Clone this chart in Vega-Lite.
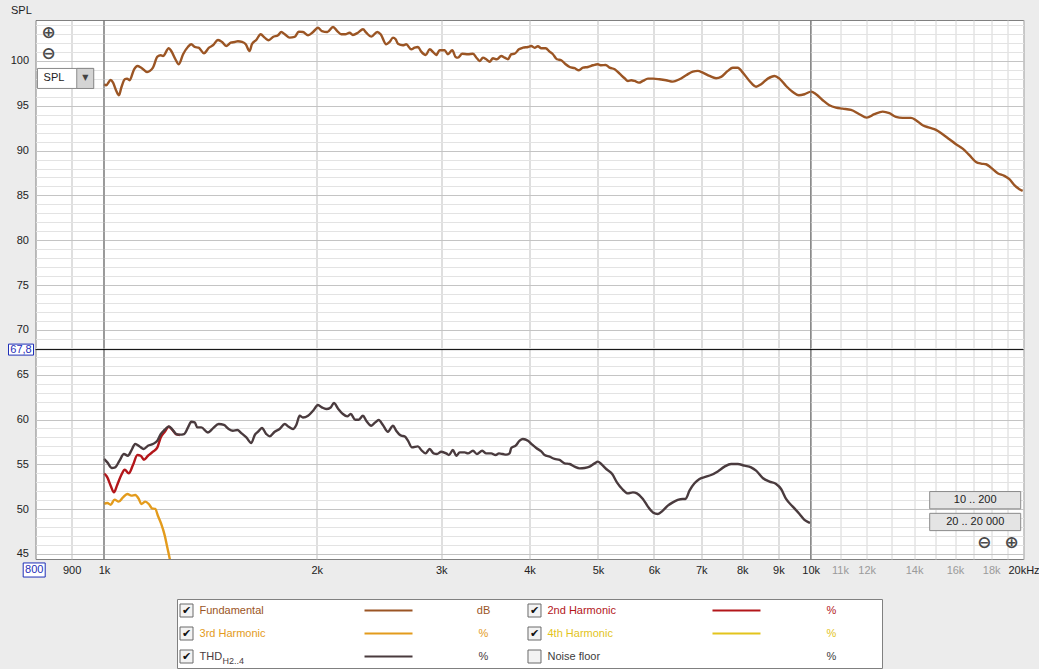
{
  "$schema": "https://vega.github.io/schema/vega-lite/v6.json",
  "background": "#ececec",
  "padding": {"left": 5.5, "top": 3, "right": 0, "bottom": 0},
  "spacing": 40,
  "bounds": "flush",
  "center": true,
  "config": {
    "font": "Liberation Sans",
    "view": {"stroke": "#808080", "fill": "#ffffff"},
    "locale": {"number": {"decimal": ",", "thousands": "\u00a0", "grouping": [3], "currency": ["", ""]}}
  },
  "datasets": {
    "cursor": [{"freq": 800, "level": 67.8}],
    "decades": [{"freq": 1000}, {"freq": 10000}],
    "controls": [
      {"kind": "zoom", "label": "⊕", "freq": 835, "level": 103.15},
      {"kind": "zoom", "label": "⊖", "freq": 835, "level": 100.75},
      {"kind": "zoom", "label": "⊖", "freq": 17608, "level": 46.23},
      {"kind": "zoom", "label": "⊕", "freq": 19244, "level": 46.23},
      {"kind": "button", "label": "10 .. 200", "freq": 17088, "level": 51.0},
      {"kind": "button", "label": "20 .. 20 000", "freq": 17088, "level": 48.57},
      {"kind": "dropdown", "label": "SPL", "freq": 882, "level": 98.05}
    ],
    "legend": [
      {"series": "Fundamental", "label": "Fundamental", "sub": "", "unit": "dB", "col": 0, "row": 0, "shown": true},
      {"series": "2nd Harmonic", "label": "2nd Harmonic", "sub": "", "unit": "%", "col": 1, "row": 0, "shown": true},
      {"series": "3rd Harmonic", "label": "3rd Harmonic", "sub": "", "unit": "%", "col": 0, "row": 1, "shown": true},
      {"series": "4th Harmonic", "label": "4th Harmonic", "sub": "", "unit": "%", "col": 1, "row": 1, "shown": true},
      {"series": "THD", "label": "THD", "sub": "H2..4", "unit": "%", "col": 0, "row": 2, "shown": true},
      {"series": "Noise floor", "label": "Noise floor", "sub": "", "unit": "%", "col": 1, "row": 2, "shown": false}
    ],
    "curves": [
      {"series":"Fundamental","freq":1000,"level":97.40},{"series":"Fundamental","freq":1007,"level":97.29},{"series":"Fundamental","freq":1022,"level":97.88},{"series":"Fundamental","freq":1030,"level":97.58},{"series":"Fundamental","freq":1041,"level":96.66},{"series":"Fundamental","freq":1050,"level":96.18},{"series":"Fundamental","freq":1058,"level":97.02},{"series":"Fundamental","freq":1070,"level":97.96},{"series":"Fundamental","freq":1078,"level":98.03},{"series":"Fundamental","freq":1087,"level":97.85},{"series":"Fundamental","freq":1103,"level":99.07},{"series":"Fundamental","freq":1115,"level":99.44},{"series":"Fundamental","freq":1129,"level":99.25},{"series":"Fundamental","freq":1151,"level":98.77},{"series":"Fundamental","freq":1173,"level":99.25},{"series":"Fundamental","freq":1190,"level":100.48},{"series":"Fundamental","freq":1203,"level":100.64},{"series":"Fundamental","freq":1212,"level":100.56},{"series":"Fundamental","freq":1235,"level":101.42},{"series":"Fundamental","freq":1245,"level":101.11},{"series":"Fundamental","freq":1262,"level":100.19},{"series":"Fundamental","freq":1276,"level":99.63},{"series":"Fundamental","freq":1294,"level":100.75},{"series":"Fundamental","freq":1315,"level":101.59},{"series":"Fundamental","freq":1329,"level":101.86},{"series":"Fundamental","freq":1344,"level":101.56},{"series":"Fundamental","freq":1361,"level":101.48},{"series":"Fundamental","freq":1385,"level":100.86},{"series":"Fundamental","freq":1408,"level":101.48},{"series":"Fundamental","freq":1426,"level":101.75},{"series":"Fundamental","freq":1450,"level":102.34},{"series":"Fundamental","freq":1469,"level":102.12},{"series":"Fundamental","freq":1489,"level":101.67},{"series":"Fundamental","freq":1511,"level":102.04},{"series":"Fundamental","freq":1531,"level":102.12},{"series":"Fundamental","freq":1547,"level":102.20},{"series":"Fundamental","freq":1568,"level":102.12},{"series":"Fundamental","freq":1587,"level":101.86},{"series":"Fundamental","freq":1607,"level":101.11},{"series":"Fundamental","freq":1619,"level":101.86},{"series":"Fundamental","freq":1642,"level":102.34},{"series":"Fundamental","freq":1666,"level":102.98},{"series":"Fundamental","freq":1688,"level":102.60},{"series":"Fundamental","freq":1710,"level":102.31},{"series":"Fundamental","freq":1734,"level":102.68},{"series":"Fundamental","freq":1763,"level":102.87},{"series":"Fundamental","freq":1782,"level":103.23},{"series":"Fundamental","freq":1802,"level":102.98},{"series":"Fundamental","freq":1831,"level":102.60},{"series":"Fundamental","freq":1861,"level":102.68},{"series":"Fundamental","freq":1886,"level":103.27},{"series":"Fundamental","freq":1912,"level":103.23},{"series":"Fundamental","freq":1944,"level":102.87},{"series":"Fundamental","freq":1976,"level":103.23},{"series":"Fundamental","freq":2008,"level":103.71},{"series":"Fundamental","freq":2034,"level":103.34},{"series":"Fundamental","freq":2070,"level":103.23},{"series":"Fundamental","freq":2109,"level":103.79},{"series":"Fundamental","freq":2138,"level":103.34},{"series":"Fundamental","freq":2166,"level":102.98},{"series":"Fundamental","freq":2195,"level":102.98},{"series":"Fundamental","freq":2226,"level":103.15},{"series":"Fundamental","freq":2250,"level":102.90},{"series":"Fundamental","freq":2287,"level":103.15},{"series":"Fundamental","freq":2325,"level":103.53},{"series":"Fundamental","freq":2350,"level":103.15},{"series":"Fundamental","freq":2389,"level":102.71},{"series":"Fundamental","freq":2436,"level":103.23},{"series":"Fundamental","freq":2463,"level":102.98},{"series":"Fundamental","freq":2508,"level":101.86},{"series":"Fundamental","freq":2536,"level":102.12},{"series":"Fundamental","freq":2564,"level":102.60},{"series":"Fundamental","freq":2586,"level":102.42},{"series":"Fundamental","freq":2606,"level":101.93},{"series":"Fundamental","freq":2648,"level":101.75},{"series":"Fundamental","freq":2677,"level":101.86},{"series":"Fundamental","freq":2721,"level":101.30},{"series":"Fundamental","freq":2751,"level":101.48},{"series":"Fundamental","freq":2781,"level":101.56},{"series":"Fundamental","freq":2811,"level":101.04},{"series":"Fundamental","freq":2852,"level":100.67},{"series":"Fundamental","freq":2889,"level":101.30},{"series":"Fundamental","freq":2927,"level":100.93},{"series":"Fundamental","freq":2952,"level":100.67},{"series":"Fundamental","freq":2985,"level":101.19},{"series":"Fundamental","freq":3034,"level":101.19},{"series":"Fundamental","freq":3066,"level":100.75},{"series":"Fundamental","freq":3110,"level":101.19},{"series":"Fundamental","freq":3144,"level":100.45},{"series":"Fundamental","freq":3168,"level":100.37},{"series":"Fundamental","freq":3213,"level":100.81},{"series":"Fundamental","freq":3273,"level":100.75},{"series":"Fundamental","freq":3327,"level":100.81},{"series":"Fundamental","freq":3370,"level":100.30},{"series":"Fundamental","freq":3400,"level":100.00},{"series":"Fundamental","freq":3437,"level":100.37},{"series":"Fundamental","freq":3474,"level":100.19},{"series":"Fundamental","freq":3513,"level":99.92},{"series":"Fundamental","freq":3551,"level":100.30},{"series":"Fundamental","freq":3597,"level":100.19},{"series":"Fundamental","freq":3648,"level":100.56},{"series":"Fundamental","freq":3689,"level":100.37},{"series":"Fundamental","freq":3729,"level":100.19},{"series":"Fundamental","freq":3769,"level":100.75},{"series":"Fundamental","freq":3811,"level":100.81},{"series":"Fundamental","freq":3865,"level":101.30},{"series":"Fundamental","freq":3915,"level":101.48},{"series":"Fundamental","freq":3980,"level":101.56},{"series":"Fundamental","freq":4023,"level":101.67},{"series":"Fundamental","freq":4067,"level":101.48},{"series":"Fundamental","freq":4111,"level":101.64},{"series":"Fundamental","freq":4156,"level":101.42},{"series":"Fundamental","freq":4216,"level":101.42},{"series":"Fundamental","freq":4271,"level":101.04},{"series":"Fundamental","freq":4317,"level":100.75},{"series":"Fundamental","freq":4374,"level":100.19},{"series":"Fundamental","freq":4436,"level":100.08},{"series":"Fundamental","freq":4500,"level":99.63},{"series":"Fundamental","freq":4559,"level":99.33},{"series":"Fundamental","freq":4634,"level":99.19},{"series":"Fundamental","freq":4699,"level":98.96},{"series":"Fundamental","freq":4761,"level":99.25},{"series":"Fundamental","freq":4839,"level":99.33},{"series":"Fundamental","freq":4918,"level":99.52},{"series":"Fundamental","freq":4997,"level":99.63},{"series":"Fundamental","freq":5053,"level":99.52},{"series":"Fundamental","freq":5126,"level":99.55},{"series":"Fundamental","freq":5193,"level":99.25},{"series":"Fundamental","freq":5279,"level":99.07},{"series":"Fundamental","freq":5365,"level":98.58},{"series":"Fundamental","freq":5453,"level":98.07},{"series":"Fundamental","freq":5512,"level":97.77},{"series":"Fundamental","freq":5572,"level":97.85},{"series":"Fundamental","freq":5634,"level":97.77},{"series":"Fundamental","freq":5713,"level":97.58},{"series":"Fundamental","freq":5788,"level":97.77},{"series":"Fundamental","freq":5883,"level":98.03},{"series":"Fundamental","freq":5980,"level":98.03},{"series":"Fundamental","freq":6109,"level":97.96},{"series":"Fundamental","freq":6242,"level":97.85},{"series":"Fundamental","freq":6380,"level":97.69},{"series":"Fundamental","freq":6520,"level":97.96},{"series":"Fundamental","freq":6662,"level":98.41},{"series":"Fundamental","freq":6809,"level":98.81},{"series":"Fundamental","freq":6921,"level":98.89},{"series":"Fundamental","freq":7035,"level":98.70},{"series":"Fundamental","freq":7190,"level":98.33},{"series":"Fundamental","freq":7346,"level":98.07},{"series":"Fundamental","freq":7467,"level":98.22},{"series":"Fundamental","freq":7631,"level":98.89},{"series":"Fundamental","freq":7757,"level":99.25},{"series":"Fundamental","freq":7884,"level":99.25},{"series":"Fundamental","freq":8014,"level":98.70},{"series":"Fundamental","freq":8191,"level":97.77},{"series":"Fundamental","freq":8369,"level":97.13},{"series":"Fundamental","freq":8506,"level":97.40},{"series":"Fundamental","freq":8694,"level":98.03},{"series":"Fundamental","freq":8886,"level":98.33},{"series":"Fundamental","freq":9032,"level":98.03},{"series":"Fundamental","freq":9228,"level":97.21},{"series":"Fundamental","freq":9431,"level":96.54},{"series":"Fundamental","freq":9618,"level":96.18},{"series":"Fundamental","freq":9797,"level":96.29},{"series":"Fundamental","freq":10010,"level":96.58},{"series":"Fundamental","freq":10174,"level":96.29},{"series":"Fundamental","freq":10398,"level":95.62},{"series":"Fundamental","freq":10627,"level":95.06},{"series":"Fundamental","freq":10858,"level":94.79},{"series":"Fundamental","freq":11098,"level":94.68},{"series":"Fundamental","freq":11402,"level":94.54},{"series":"Fundamental","freq":11718,"level":94.06},{"series":"Fundamental","freq":12000,"level":93.68},{"series":"Fundamental","freq":12305,"level":94.06},{"series":"Fundamental","freq":12642,"level":94.35},{"series":"Fundamental","freq":12920,"level":94.17},{"series":"Fundamental","freq":13200,"level":93.76},{"series":"Fundamental","freq":13491,"level":93.65},{"series":"Fundamental","freq":13861,"level":93.65},{"series":"Fundamental","freq":14089,"level":93.39},{"series":"Fundamental","freq":14400,"level":92.83},{"series":"Fundamental","freq":14718,"level":92.56},{"series":"Fundamental","freq":15038,"level":92.31},{"series":"Fundamental","freq":15370,"level":91.83},{"series":"Fundamental","freq":15709,"level":91.27},{"series":"Fundamental","freq":16051,"level":90.71},{"series":"Fundamental","freq":16405,"level":90.22},{"series":"Fundamental","freq":16767,"level":89.49},{"series":"Fundamental","freq":17131,"level":88.74},{"series":"Fundamental","freq":17413,"level":88.55},{"series":"Fundamental","freq":17699,"level":88.48},{"series":"Fundamental","freq":17990,"level":88.10},{"series":"Fundamental","freq":18387,"level":87.48},{"series":"Fundamental","freq":18792,"level":87.18},{"series":"Fundamental","freq":19100,"level":86.81},{"series":"Fundamental","freq":19414,"level":86.14},{"series":"Fundamental","freq":19733,"level":85.70},{"series":"Fundamental","freq":19946,"level":85.51},
      {"series":"3rd Harmonic","freq":1000,"level":50.58},{"series":"3rd Harmonic","freq":1011,"level":50.69},{"series":"3rd Harmonic","freq":1022,"level":50.50},{"series":"3rd Harmonic","freq":1035,"level":51.06},{"series":"3rd Harmonic","freq":1049,"level":50.84},{"series":"3rd Harmonic","freq":1064,"level":51.32},{"series":"3rd Harmonic","freq":1079,"level":51.69},{"series":"3rd Harmonic","freq":1093,"level":51.51},{"series":"3rd Harmonic","freq":1107,"level":51.58},{"series":"3rd Harmonic","freq":1120,"level":51.14},{"series":"3rd Harmonic","freq":1129,"level":50.58},{"series":"3rd Harmonic","freq":1144,"level":50.84},{"series":"3rd Harmonic","freq":1157,"level":50.58},{"series":"3rd Harmonic","freq":1169,"level":50.09},{"series":"3rd Harmonic","freq":1182,"level":50.02},{"series":"3rd Harmonic","freq":1192,"level":49.27},{"series":"3rd Harmonic","freq":1205,"level":48.35},{"series":"3rd Harmonic","freq":1219,"level":47.05},{"series":"3rd Harmonic","freq":1229,"level":45.74},{"series":"3rd Harmonic","freq":1239,"level":44.45},{"series":"3rd Harmonic","freq":1245,"level":43.6},
      {"series":"2nd Harmonic","freq":1000,"level":53.99},{"series":"2nd Harmonic","freq":1011,"level":53.55},{"series":"2nd Harmonic","freq":1022,"level":52.62},{"series":"2nd Harmonic","freq":1033,"level":51.87},{"series":"2nd Harmonic","freq":1044,"level":52.70},{"series":"2nd Harmonic","freq":1058,"level":53.81},{"series":"2nd Harmonic","freq":1070,"level":54.40},{"series":"2nd Harmonic","freq":1084,"level":53.99},{"series":"2nd Harmonic","freq":1099,"level":54.93},{"series":"2nd Harmonic","freq":1115,"level":56.04},{"series":"2nd Harmonic","freq":1127,"level":55.96},{"series":"2nd Harmonic","freq":1139,"level":55.52},{"series":"2nd Harmonic","freq":1154,"level":55.96},{"series":"2nd Harmonic","freq":1173,"level":56.41},{"series":"2nd Harmonic","freq":1190,"level":56.89},{"series":"2nd Harmonic","freq":1203,"level":58.00},{"series":"2nd Harmonic","freq":1219,"level":58.64},{"series":"2nd Harmonic","freq":1235,"level":59.20},{"series":"2nd Harmonic","freq":1248,"level":58.90},{"series":"2nd Harmonic","freq":1266,"level":58.34},{"series":"2nd Harmonic","freq":1280,"level":58.28},
      {"series":"THD","freq":1000,"level":55.60},{"series":"THD","freq":1011,"level":55.22},{"series":"THD","freq":1026,"level":54.59},{"series":"THD","freq":1037,"level":54.66},{"series":"THD","freq":1052,"level":55.41},{"series":"THD","freq":1067,"level":56.15},{"series":"THD","freq":1081,"level":55.96},{"series":"THD","freq":1093,"level":56.52},{"series":"THD","freq":1107,"level":57.27},{"series":"THD","freq":1123,"level":57.00},{"series":"THD","freq":1138,"level":56.71},{"series":"THD","freq":1154,"level":57.08},{"series":"THD","freq":1173,"level":57.27},{"series":"THD","freq":1190,"level":57.64},{"series":"THD","freq":1203,"level":58.38},{"series":"THD","freq":1219,"level":58.86},{"series":"THD","freq":1235,"level":59.23},{"series":"THD","freq":1248,"level":58.94},{"series":"THD","freq":1266,"level":58.38},{"series":"THD","freq":1280,"level":58.31},{"series":"THD","freq":1298,"level":58.38},{"series":"THD","freq":1315,"level":59.12},{"series":"THD","freq":1329,"level":59.75},{"series":"THD","freq":1344,"level":59.68},{"series":"THD","freq":1355,"level":59.12},{"series":"THD","freq":1373,"level":59.12},{"series":"THD","freq":1403,"level":58.56},{"series":"THD","freq":1426,"level":59.01},{"series":"THD","freq":1453,"level":59.50},{"series":"THD","freq":1478,"level":59.39},{"series":"THD","freq":1501,"level":58.94},{"series":"THD","freq":1522,"level":58.75},{"series":"THD","freq":1544,"level":58.83},{"series":"THD","freq":1564,"level":58.49},{"series":"THD","freq":1590,"level":58.00},{"series":"THD","freq":1616,"level":57.38},{"series":"THD","freq":1634,"level":58.27},{"series":"THD","freq":1652,"level":58.64},{"series":"THD","freq":1673,"level":59.05},{"series":"THD","freq":1697,"level":58.38},{"series":"THD","freq":1716,"level":58.12},{"series":"THD","freq":1744,"level":58.64},{"series":"THD","freq":1772,"level":58.94},{"series":"THD","freq":1802,"level":59.50},{"series":"THD","freq":1825,"level":59.20},{"series":"THD","freq":1851,"level":58.94},{"series":"THD","freq":1871,"level":59.39},{"series":"THD","freq":1892,"level":60.42},{"series":"THD","freq":1912,"level":60.23},{"series":"THD","freq":1944,"level":60.42},{"series":"THD","freq":1976,"level":60.98},{"series":"THD","freq":2008,"level":61.62},{"series":"THD","freq":2034,"level":61.35},{"series":"THD","freq":2063,"level":61.17},{"series":"THD","freq":2093,"level":61.35},{"series":"THD","freq":2115,"level":61.84},{"series":"THD","freq":2143,"level":61.24},{"series":"THD","freq":2178,"level":60.61},{"series":"THD","freq":2209,"level":60.35},{"series":"THD","freq":2234,"level":60.61},{"series":"THD","freq":2267,"level":59.98},{"series":"THD","freq":2293,"level":59.98},{"series":"THD","freq":2325,"level":60.42},{"series":"THD","freq":2350,"level":59.87},{"series":"THD","freq":2389,"level":59.31},{"series":"THD","freq":2420,"level":59.68},{"series":"THD","freq":2447,"level":59.94},{"series":"THD","freq":2481,"level":59.39},{"series":"THD","freq":2522,"level":58.64},{"series":"THD","freq":2564,"level":59.31},{"series":"THD","freq":2591,"level":58.75},{"series":"THD","freq":2634,"level":58.19},{"series":"THD","freq":2663,"level":58.12},{"series":"THD","freq":2692,"level":57.64},{"series":"THD","freq":2727,"level":56.89},{"series":"THD","freq":2781,"level":57.00},{"series":"THD","freq":2811,"level":56.60},{"series":"THD","freq":2852,"level":56.22},{"series":"THD","freq":2889,"level":56.71},{"series":"THD","freq":2927,"level":56.22},{"series":"THD","freq":2958,"level":56.15},{"series":"THD","freq":3001,"level":56.41},{"series":"THD","freq":3050,"level":56.22},{"series":"THD","freq":3077,"level":56.04},{"series":"THD","freq":3117,"level":56.60},{"series":"THD","freq":3151,"level":55.96},{"series":"THD","freq":3186,"level":56.33},{"series":"THD","freq":3238,"level":56.33},{"series":"THD","freq":3273,"level":56.22},{"series":"THD","freq":3327,"level":56.52},{"series":"THD","freq":3370,"level":56.15},{"series":"THD","freq":3429,"level":56.52},{"series":"THD","freq":3474,"level":56.22},{"series":"THD","freq":3531,"level":56.22},{"series":"THD","freq":3582,"level":56.04},{"series":"THD","freq":3621,"level":56.22},{"series":"THD","freq":3668,"level":56.15},{"series":"THD","freq":3708,"level":56.08},{"series":"THD","freq":3749,"level":56.22},{"series":"THD","freq":3769,"level":56.82},{"series":"THD","freq":3823,"level":57.08},{"series":"THD","freq":3874,"level":57.64},{"series":"THD","freq":3915,"level":57.83},{"series":"THD","freq":3980,"level":57.64},{"series":"THD","freq":4036,"level":57.19},{"series":"THD","freq":4089,"level":56.82},{"series":"THD","freq":4156,"level":56.44},{"series":"THD","freq":4202,"level":56.04},{"series":"THD","freq":4271,"level":55.85},{"series":"THD","freq":4341,"level":55.60},{"series":"THD","freq":4412,"level":55.49},{"series":"THD","freq":4485,"level":55.11},{"series":"THD","freq":4559,"level":55.04},{"series":"THD","freq":4634,"level":54.74},{"series":"THD","freq":4710,"level":54.55},{"series":"THD","freq":4787,"level":54.59},{"series":"THD","freq":4866,"level":54.74},{"series":"THD","freq":4946,"level":55.11},{"series":"THD","freq":4997,"level":55.30},{"series":"THD","freq":5053,"level":55.04},{"series":"THD","freq":5136,"level":54.48},{"series":"THD","freq":5237,"level":53.92},{"series":"THD","freq":5318,"level":52.99},{"series":"THD","freq":5411,"level":52.25},{"series":"THD","freq":5512,"level":51.76},{"series":"THD","freq":5603,"level":51.87},{"series":"THD","freq":5676,"level":51.76},{"series":"THD","freq":5788,"level":51.14},{"series":"THD","freq":5883,"level":50.28},{"series":"THD","freq":5980,"level":49.64},{"series":"THD","freq":6076,"level":49.46},{"series":"THD","freq":6175,"level":49.83},{"series":"THD","freq":6277,"level":50.39},{"series":"THD","freq":6380,"level":50.76},{"series":"THD","freq":6484,"level":51.03},{"series":"THD","freq":6591,"level":51.14},{"series":"THD","freq":6649,"level":51.14},{"series":"THD","freq":6736,"level":52.06},{"series":"THD","freq":6847,"level":52.88},{"series":"THD","freq":6959,"level":53.37},{"series":"THD","freq":7111,"level":53.62},{"series":"THD","freq":7227,"level":53.81},{"series":"THD","freq":7387,"level":54.21},{"series":"THD","freq":7550,"level":54.74},{"series":"THD","freq":7714,"level":55.04},{"series":"THD","freq":7884,"level":55.04},{"series":"THD","freq":8058,"level":54.85},{"series":"THD","freq":8233,"level":54.66},{"series":"THD","freq":8369,"level":54.29},{"series":"THD","freq":8553,"level":53.48},{"series":"THD","freq":8742,"level":53.07},{"series":"THD","freq":8932,"level":52.81},{"series":"THD","freq":9079,"level":52.25},{"series":"THD","freq":9228,"level":51.14},{"series":"THD","freq":9431,"level":50.28},{"series":"THD","freq":9640,"level":49.46},{"series":"THD","freq":9797,"level":48.80},{"series":"THD","freq":9935,"level":48.53},{"series":"THD","freq":9977,"level":48.46}
    ]
  },
  "vconcat": [
    {
      "width": 988,
      "height": 539,
      "layer": [
        {
          "data": {"name": "curves"},
          "mark": {"type": "line", "strokeWidth": 2.4, "clip": true, "interpolate": "monotone"},
          "encoding": {
            "x": {
              "field": "freq", "type": "quantitative",
              "scale": {"type": "log", "domain": [800, 20000], "nice": false},
              "axis": {
                "title": null, "domain": false, "ticks": false, "tickSize": 0, "tickCount": 200,
                "values": [900,1000,2000,3000,4000,5000,6000,7000,8000,9000,10000,11000,12000,13000,14000,15000,16000,17000,18000,19000,20000],
                "labelExpr": "datum.value < 1000 ? '900' : datum.value == 20000 ? '20kHz' : (datum.value == 13000 || datum.value == 15000 || datum.value == 17000 || datum.value == 19000) ? '' : (datum.value / 1000) + 'k'",
                "labelFont": "Liberation Sans", "labelFontSize": 11, "labelPadding": 5,
                "labelFlush": false, "labelOverlap": false, "labelBound": false,
                "labelColor": {"condition": {"test": "datum.value == 11000 || datum.value == 12000 || datum.value == 14000 || datum.value == 16000 || datum.value == 18000", "value": "#9a9a9a"}, "value": "#222222"},
                "gridColor": {"condition": [{"test": "datum.value == 1000 || datum.value == 10000", "value": "#7a7a7a"}, {"test": "datum.value > 10000", "value": "#d6d6d6"}], "value": "#bfbfbf"},
                "gridWidth": 1, "gridOpacity": 1
              }
            },
            "y": {
              "field": "level", "type": "quantitative",
              "scale": {"domain": [44.44, 104.57], "nice": false, "zero": false},
              "axis": {
                "title": "SPL", "titleAngle": 0, "titleX": -25, "titleY": -10, "titleAlign": "left", "titleBaseline": "middle",
                "titleFont": "Liberation Sans", "titleFontSize": 11, "titleFontWeight": "normal", "titleColor": "#222222",
                "domain": false, "ticks": false, "tickSize": 0, "tickCount": 200, "format": "d",
                "values": [45,46,47,48,49,50,51,52,53,54,55,56,57,58,59,60,61,62,63,64,65,66,67,68,69,70,71,72,73,74,75,76,77,78,79,80,81,82,83,84,85,86,87,88,89,90,91,92,93,94,95,96,97,98,99,100,101,102,103,104],
                "labelExpr": "datum.value % 5 === 0 ? datum.label : ''",
                "labelFont": "Liberation Sans", "labelFontSize": 11, "labelPadding": 7, "labelColor": "#222222", "labelOverlap": false,
                "gridColor": {"condition": {"test": "datum.value % 5 === 0", "value": "#c4c4c4"}, "value": "#e3e3e3"},
                "gridWidth": 1, "gridOpacity": 1
              }
            },
            "color": {
              "field": "series", "type": "nominal", "legend": null,
              "scale": {"domain": ["Fundamental","2nd Harmonic","3rd Harmonic","4th Harmonic","THD","Noise floor"], "range": ["#9b5524","#b3161a","#e39b1c","#e3c41c","#4a3b3e","#3d3d3d"]}
            }
          }
        },
        {
          "data": {"name": "decades"},
          "mark": {"type": "rule", "color": "#7a7a7a", "strokeWidth": 1},
          "encoding": {"x": {"field": "freq", "type": "quantitative"}}
        },
        {
          "data": {"name": "cursor"},
          "mark": {"type": "rule", "color": "#000000", "strokeWidth": 1},
          "encoding": {"y": {"field": "level", "type": "quantitative"}}
        },
        {
          "data": {"name": "cursor"},
          "mark": {"type": "point", "shape": "M-1,-0.44H1V0.44H-1Z", "size": 625, "filled": true, "fill": "#ffffff", "stroke": "#1f2fb8", "strokeWidth": 1, "opacity": 1, "xOffset": -14.5},
          "encoding": {"x": {"field": "freq", "type": "quantitative"}, "y": {"field": "level", "type": "quantitative"}}
        },
        {
          "data": {"name": "cursor"},
          "mark": {"type": "text", "color": "#1f2fb8", "dx": -14.5, "fontSize": 11, "font": "Liberation Sans"},
          "encoding": {"x": {"field": "freq", "type": "quantitative"}, "y": {"field": "level", "type": "quantitative"}, "text": {"field": "level", "type": "quantitative", "format": ".1f"}}
        },
        {
          "data": {"name": "cursor"},
          "mark": {"type": "point", "shape": "M-1,-0.64H1V0.64H-1Z", "size": 484, "filled": true, "fill": "#ffffff", "stroke": "#1f2fb8", "strokeWidth": 1, "opacity": 1, "xOffset": -1.3, "yOffset": 11},
          "encoding": {"x": {"field": "freq", "type": "quantitative"}, "y": {"datum": 44.44, "type": "quantitative"}}
        },
        {
          "data": {"name": "cursor"},
          "mark": {"type": "text", "color": "#1f2fb8", "dx": -1.3, "dy": 11, "fontSize": 11, "font": "Liberation Sans"},
          "encoding": {"x": {"field": "freq", "type": "quantitative"}, "y": {"datum": 44.44, "type": "quantitative"}, "text": {"field": "freq", "type": "quantitative", "format": "d"}}
        },
        {
          "data": {"name": "controls"},
          "transform": [{"filter": "datum.kind === 'button'"}],
          "mark": {"type": "point", "shape": "M-1,-0.19H1V0.19H-1Z", "size": 8281, "filled": true, "fill": "#e4e4e4", "stroke": "#8a8a8a", "strokeWidth": 1, "opacity": 1},
          "encoding": {"x": {"field": "freq", "type": "quantitative"}, "y": {"field": "level", "type": "quantitative"}}
        },
        {
          "data": {"name": "controls"},
          "transform": [{"filter": "datum.kind === 'button'"}],
          "mark": {"type": "text", "color": "#222222", "fontSize": 11, "font": "Liberation Sans"},
          "encoding": {"x": {"field": "freq", "type": "quantitative"}, "y": {"field": "level", "type": "quantitative"}, "text": {"field": "label"}}
        },
        {
          "data": {"name": "controls"},
          "transform": [{"filter": "datum.kind === 'dropdown'"}],
          "mark": {"type": "point", "shape": "M-1,-0.357H1V0.357H-1Z", "size": 3136, "filled": true, "fill": "#ffffff", "stroke": "#8a8a8a", "strokeWidth": 1, "opacity": 1},
          "encoding": {"x": {"field": "freq", "type": "quantitative"}, "y": {"field": "level", "type": "quantitative"}}
        },
        {
          "data": {"name": "controls"},
          "transform": [{"filter": "datum.kind === 'dropdown'"}],
          "mark": {"type": "point", "shape": "M-1,-1.18H1V1.18H-1Z", "size": 289, "filled": true, "fill": "#d4d4d4", "stroke": "#8a8a8a", "strokeWidth": 1, "opacity": 1, "xOffset": 19.8},
          "encoding": {"x": {"field": "freq", "type": "quantitative"}, "y": {"field": "level", "type": "quantitative"}}
        },
        {
          "data": {"name": "controls"},
          "transform": [{"filter": "datum.kind === 'dropdown'"}],
          "mark": {"type": "text", "color": "#222222", "fontSize": 11, "font": "Liberation Sans", "dx": -11.5},
          "encoding": {"x": {"field": "freq", "type": "quantitative"}, "y": {"field": "level", "type": "quantitative"}, "text": {"field": "label"}}
        },
        {
          "data": {"name": "controls"},
          "transform": [{"filter": "datum.kind === 'dropdown'"}],
          "mark": {"type": "text", "color": "#444444", "fontSize": 8, "font": "DejaVu Sans", "dx": 19.8, "text": "▼"},
          "encoding": {"x": {"field": "freq", "type": "quantitative"}, "y": {"field": "level", "type": "quantitative"}}
        },
        {
          "data": {"name": "controls"},
          "transform": [{"filter": "datum.kind === 'zoom'"}],
          "mark": {"type": "text", "color": "#4a4a4a", "fontSize": 17, "font": "DejaVu Sans", "fontWeight": "bold"},
          "encoding": {"x": {"field": "freq", "type": "quantitative"}, "y": {"field": "level", "type": "quantitative"}, "text": {"field": "label"}}
        }
      ]
    },
    {
      "width": 705,
      "height": 69,
      "data": {"name": "legend"},
      "encoding": {
        "x": {"field": "col", "type": "ordinal", "axis": null, "scale": {"type": "point", "padding": 0.513}},
        "y": {"field": "row", "type": "ordinal", "axis": null, "scale": {"type": "point", "padding": 0.5}}
      },
      "layer": [
        {"mark": {"type": "point", "shape": "square", "size": 169, "filled": true, "fill": "#f3f3f3", "stroke": "#6a6a6a", "strokeWidth": 1, "opacity": 1, "xOffset": -169}},
        {"mark": {"type": "text", "dx": -169, "fontSize": 11, "font": "DejaVu Sans", "color": "#111111"},
         "encoding": {"text": {"condition": {"test": "datum.shown", "value": "✔"}, "value": ""}}},
        {"mark": {"type": "text", "align": "left", "dx": -156, "fontSize": 11, "font": "Liberation Sans"},
         "encoding": {"text": {"field": "label"}, "color": {"field": "series", "type": "nominal", "legend": null}}},
        {"mark": {"type": "text", "align": "left", "dx": -133, "dy": 4, "fontSize": 9, "font": "Liberation Sans"},
         "encoding": {"text": {"field": "sub"}, "color": {"field": "series", "type": "nominal", "legend": null}}},
        {"mark": {"type": "tick", "orient": "horizontal", "size": 48, "thickness": 2, "xOffset": 33},
         "encoding": {"color": {"field": "series", "type": "nominal", "legend": null}, "opacity": {"condition": {"test": "datum.shown", "value": 1}, "value": 0}}},
        {"mark": {"type": "text", "dx": 128, "fontSize": 11, "font": "Liberation Sans"},
         "encoding": {"text": {"field": "unit"}, "color": {"field": "series", "type": "nominal", "legend": null}}}
      ]
    }
  ]
}
